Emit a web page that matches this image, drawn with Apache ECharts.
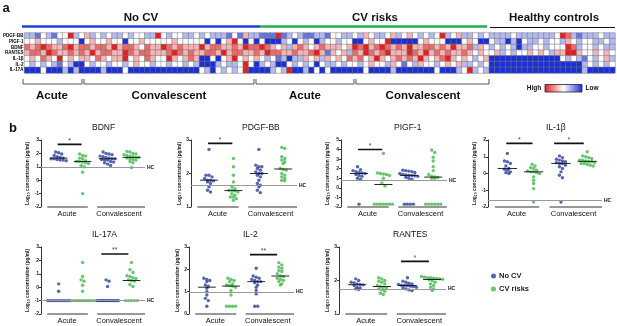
<!DOCTYPE html>
<html>
<head>
<meta charset="utf-8">
<script src="https://cdn.jsdelivr.net/npm/echarts/dist/echarts.min.js"></script>
<style>
  html, body { margin: 0; padding: 0; background: #fff; }
  #main { width: 617px; height: 326px; }
</style>
</head>
<body>
<div id="main"></div>
<script>
const FONT = 'Liberation Sans, Arial, sans-serif'

// ---------- heatmap (panel a) ----------
// levels: R=3 r=2 p=1 w=0 l=-1 b=-2 B=-3 (high -> low)
const heatRows = ['PDGF-BB', 'PIGF-1', 'BDNF', 'RANTES', 'IL-1β', 'IL-2', 'IL-17A']
// columns: No CV acute 11, No CV convalescent 31, CV acute 18, CV convalescent 25, healthy 23
const rowPDGF = 'llbwlbwwRlw' + 'plwlwllwlwwllRwlwwllwlwlllbwbpl' + 'lbbbRblwlbbllbwwll' + 'wlpwllwplwpwlwlwRlwpllwlw' + 'llllwlllllllwRrlblllwll'
const rowPIGF = 'wwpwwwlwwwB' + 'wpwwpwwBwwpwwwwwpwwwwwBwBwpRwBw' + 'BwBBBlwBwlwBlwwlww' + 'BBwpwwRBBBBBwpwwwBBBwpwBB' + 'wllBlBwllwlwwlpwlwwllwl'
const rowBDNF = 'rprRrpprRpr' + 'rprrpRprrpwrppRrprpppRprrpprpRr' + 'rRrpwplprpwprpppwp' + 'RrRprRrprpRpprrprpRpprlpw' + 'lwlwlBllwwlwwwRrlwwlwll'
const rowRANTES = 'prrpRrpprpr' + 'pRprrppRrprrppprRrprpprrpRprrpp' + 'rpRrrpprpprRpbpwpl' + 'rpRrprRpppRrpRprprpprpwpw' + 'wplwlwwpwpwlppRRpwwpwpw'
const rowIL1B = 'wpwrpwRwpwp' + 'pwrpwppRwpwrpwwRpwprpBBwBwpRwpw' + 'pwlwblBllpwplpwpwr' + 'prwpRpwprprpRpwprRpwpwlwp' + 'BBBBBBBBBBBBBwlwlbwlwpl'
const rowIL2 = 'wlwlwlbwlBB' + 'wlwwlwwlwpwwlwwlwwlwlBBBlwllwRw' + 'BlwlBBwlwlwBwllwlw' + 'wlwpwwlpwbwlpwwlwpwpllwlw' + 'BBBBBBBBBBBBBBBBBlwlwlw'
const rowIL17A = 'BBBwBBBlBlB' + 'BBBlBBBwBBBBBBBBBBBBBwlBwlwlwRB' + 'BBBlwlRBBlBwBwBBBB' + 'BBwBBBBlBBBBBBBwBBBlwRlwl' + 'BBBBBBBBBBBBBBBBBlBBBBB'
const heatStrings = [rowPDGF, rowPIGF, rowBDNF, rowRANTES, rowIL1B, rowIL2, rowIL17A]
const levelOf = { R: 3, r: 2, p: 1, w: 0, l: -1, b: -2, B: -3 }

// ---------- scatter panels (panel b) ----------
// order in each: No CV acute, CV risks acute, No CV convalescent, CV risks convalescent
const bdnf = [
  [2.1, 2.05, 1.95, 1.85, 1.75, 1.7, 1.65, 1.6, 1.6, 1.55, 1.5, 1.5, 1.45],
  [1.95, 1.85, 1.8, 1.65, 1.6, 1.45, 1.4, 1.4, 1.35, 1.3, 1.25, 1.1, 1.0, 0.6, -1.0],
  [2.1, 2.0, 1.95, 1.9, 1.8, 1.75, 1.7, 1.65, 1.6, 1.6, 1.55, 1.5, 1.5, 1.4, 1.35, 1.3, 1.2, 1.1],
  [2.15, 2.1, 2.0, 1.95, 1.9, 1.85, 1.8, 1.75, 1.7, 1.7, 1.65, 1.6, 1.55, 1.5, 1.4, 1.3, 0.95]
]
const pdgf = [
  [2.72, 1.95, 1.95, 1.9, 1.85, 1.8, 1.8, 1.78, 1.75, 1.7, 1.6, 1.5, 1.45],
  [2.45, 2.2, 1.95, 1.75, 1.6, 1.55, 1.5, 1.5, 1.48, 1.45, 1.4, 1.35, 1.3, 1.3, 1.25, 1.2],
  [2.72, 2.25, 2.2, 2.2, 2.15, 2.1, 2.05, 2.0, 2.0, 1.95, 1.9, 1.8, 1.7, 1.65, 1.6, 1.5, 1.43],
  [2.78, 2.75, 2.5, 2.45, 2.4, 2.35, 2.3, 2.15, 2.12, 2.1, 2.0, 1.95, 1.9, 1.85, 1.8, 1.78]
]
const pigf = [
  [2.2, 1.9, 1.8, 1.7, 1.6, 1.55, 1.5, 1.4, 1.3, 1.2, 1.0, 0.9, -1.7],
  [3.6, 1.55, 1.5, 1.45, 1.4, 1.3, 1.0, 0.5, 0.2, -1.7, -1.7, -1.7, -1.7, -1.7, -1.7, -1.7],
  [1.85, 1.8, 1.75, 1.7, 1.6, 1.5, 1.4, 1.35, 1.3, 1.3, 1.25, 1.2, 1.1, 1.0, 0.9, -1.7, -1.7, -1.7, -1.7],
  [3.95, 3.7, 3.2, 2.8, 2.2, 1.8, 1.4, 1.2, 1.15, 1.1, 1.0, 1.0, -1.7, -1.7, -1.7, -1.7, -1.7, -1.7]
]
const il1b = [
  [1.2, 0.75, 0.7, 0.6, 0.45, 0.3, 0.25, 0.2, 0.1, 0.05, 0.0],
  [0.55, 0.45, 0.35, 0.3, 0.2, 0.15, 0.1, 0.1, 0.05, 0.0, -0.2, -0.4, -0.6, -0.9, -1.7],
  [1.05, 0.95, 0.85, 0.8, 0.75, 0.7, 0.65, 0.6, 0.6, 0.5, 0.4, 0.3, 0.1, -0.1, -0.25, -1.7],
  [1.3, 1.05, 1.0, 0.95, 0.9, 0.8, 0.8, 0.75, 0.7, 0.7, 0.65, 0.6, 0.6, 0.55, 0.5, 0.45]
]
const il17a = [
  [0.25, -0.3, -1, -1, -1, -1, -1, -1, -1, -1, -1, -1, -1],
  [1.85, 0.8, 0.55, 0.45, 0.15, -0.3, -1, -1, -1, -1, -1, -1, -1, -1, -1, -1],
  [0.55, 0.45, 0.05, -1, -1, -1, -1, -1, -1, -1, -1, -1, -1, -1, -1, -1, -1, -1],
  [1.85, 1.3, 1.1, 0.85, 0.8, 0.7, 0.65, 0.55, 0.5, 0.45, 0.2, 0.05, -1, -1, -1, -1, -1]
]
const il2 = [
  [1.6, 1.55, 1.5, 1.45, 1.3, 1.25, 1.15, 1.0, 0.85, 0.7, 0.6, 0.35],
  [1.6, 1.55, 1.5, 1.45, 1.35, 1.3, 1.28, 1.25, 1.2, 1.05, 0.85, 0.35, 0.35, 0.35, 0.35],
  [2.05, 1.7, 1.65, 1.6, 1.55, 1.5, 1.45, 1.45, 1.4, 1.3, 1.2, 1.05, 0.9, 0.35, 0.35],
  [2.3, 2.2, 2.1, 2.05, 1.95, 1.9, 1.8, 1.7, 1.68, 1.6, 1.55, 1.5, 1.45, 1.35, 1.3]
]
const rantes = [
  [2.05, 2.0, 1.95, 1.93, 1.9, 1.88, 1.87, 1.85, 1.8, 1.78, 1.75, 1.73],
  [2.08, 2.05, 2.0, 1.98, 1.95, 1.9, 1.85, 1.82, 1.8, 1.78, 1.75, 1.72, 1.68, 1.62, 1.58],
  [2.08, 1.98, 1.95, 1.92, 1.9, 1.88, 1.86, 1.85, 1.85, 1.83, 1.82, 1.8, 1.78, 1.75, 1.72, 1.7],
  [2.12, 2.1, 2.08, 2.08, 2.07, 2.06, 2.05, 2.04, 2.02, 2.0, 1.95, 1.9, 1.85, 1.8, 1.75, 1.7]
]
const hcValues = [0.97, 1.64, 0.75, -1.62, -1.0, 0.98, 1.75]
const groupLabels = ['Acute', 'Convalescent']

const panels = [
  { title: 'BDNF', data: bdnf, hc: hcValues[0], min: -2, max: 3, left: 41, top: 140, width: 104, tx: 92,
    sig: [{ g: 0, y: 2.67, text: '*' }] },
  { title: 'PDGF-BB', data: pdgf, hc: hcValues[1], min: 1, max: 3, left: 191, top: 140, width: 106, tx: 242,
    sig: [{ g: 0, y: 2.9, text: '*' }] },
  { title: 'PIGF-1', data: pigf, hc: hcValues[2], min: -2, max: 5, left: 341, top: 140, width: 106, tx: 394,
    sig: [{ g: 0, y: 4.0, text: '*' }] },
  { title: 'IL-1β', data: il1b, hc: hcValues[3], min: -2, max: 2, left: 488, top: 140, width: 114, tx: 546,
    sig: [{ g: 0, y: 1.8, text: '*' }, { g: 1, y: 1.8, text: '*' }] },
  { title: 'IL-17A', data: il17a, hc: hcValues[4], min: -2, max: 3, left: 41, top: 247, width: 104, tx: 92,
    sig: [{ g: 1, y: 2.48, text: '**' }] },
  { title: 'IL-2', data: il2, hc: hcValues[5], min: 0, max: 3, left: 189, top: 247, width: 105, tx: 243,
    sig: [{ g: 1, y: 2.66, text: '**' }] },
  { title: 'RANTES', data: rantes, hc: hcValues[6], min: 1, max: 3, left: 339, top: 247, width: 107, tx: 393,
    sig: [{ g: 1, y: 2.57, text: '*' }] }
]

const BLUE = '#2c3e9c'
const GREEN = '#44b64b'
const centers = [0.17, 0.4, 0.64, 0.87]
const sigSpan = [[0.16, 0.39], [0.58, 0.84]]
const baseSpan = [[0.06, 0.45], [0.54, 1.0]]
const PLOT_H = 67

// simple beeswarm layout: points with close values are spread sideways
function swarm(vals, center, yRange, width) {
  const sorted = vals.slice().sort((a, b) => b - a)
  const bin = yRange * 3.2 / PLOT_H
  const stepX = 3.0 / width
  const maxHalf = 11 / width
  const out = []
  let i = 0
  while (i < sorted.length) {
    let j = i
    while (j < sorted.length && sorted[i] - sorted[j] < bin) j++
    const n = j - i
    const step = n > 1 ? Math.min(stepX, (2 * maxHalf) / (n - 1)) : 0
    for (let k = 0; k < n; k++) out.push([center + (k - (n - 1) / 2) * step, sorted[i + k]])
    i = j
  }
  return out
}

function median(vals) {
  const s = vals.slice().sort((a, b) => a - b)
  const m = Math.floor(s.length / 2)
  return s.length % 2 ? s[m] : (s[m - 1] + s[m]) / 2
}

const grids = []
const xAxes = []
const yAxes = []
const series = []

// heatmap grid
const heatCols = []
for (let i = 0; i < rowPDGF.length; i++) heatCols.push(String(i))
const heatData = []
heatStrings.forEach((str, r) => {
  for (let c = 0; c < str.length; c++) heatData.push([c, r, levelOf[str[c]]])
})
grids.push({ left: 22, top: 33, width: 593, height: 40 })
xAxes.push({ gridIndex: 0, type: 'category', data: heatCols, show: false })
yAxes.push({
  gridIndex: 0, type: 'category', data: heatRows, inverse: true,
  axisLine: { show: false }, axisTick: { show: false },
  axisLabel: { interval: 0, fontSize: 4.5, fontWeight: 'bold', margin: 1, color: '#000', fontFamily: FONT }
})
series.push({
  type: 'heatmap', xAxisIndex: 0, yAxisIndex: 0, data: heatData,
  itemStyle: { borderColor: '#777', borderWidth: 0.5 }
})

const graphics = []

panels.forEach((p) => {
  const gi = grids.length
  const xa = xAxes.length
  const ya = yAxes.length
  const yRange = p.max - p.min
  grids.push({ left: p.left, top: p.top, width: p.width, height: PLOT_H })
  xAxes.push({ gridIndex: gi, type: 'value', min: 0, max: 1, show: false })
  xAxes.push({
    gridIndex: gi, type: 'category', data: groupLabels, position: 'bottom',
    axisLine: { show: false }, axisTick: { show: false },
    axisLabel: { interval: 0, hideOverlap: false, fontSize: 7.5, color: '#111', margin: 3, fontFamily: FONT }
  })
  yAxes.push({
    gridIndex: gi, type: 'value', min: p.min, max: p.max, interval: 1,
    axisLine: { show: true, lineStyle: { color: '#333', width: 1 } },
    axisTick: { show: true, length: 2, lineStyle: { color: '#333' } },
    splitLine: { show: false },
    axisLabel: { fontSize: 5, margin: 2, color: '#222', fontWeight: 'bold', fontFamily: FONT },
    name: 'Log{s|10} concentration (pg/ml)',
    nameLocation: 'middle', nameGap: 9,
    nameTextStyle: {
      fontSize: 4.8, fontWeight: 'bold', color: '#222', fontFamily: FONT,
      rich: { s: { fontSize: 3.5, fontWeight: 'bold', verticalAlign: 'bottom', fontFamily: FONT } }
    }
  })

  // dots
  p.data.forEach((vals, g) => {
    series.push({
      name: g % 2 ? 'CV risks' : 'No CV',
      type: 'scatter', xAxisIndex: xa, yAxisIndex: ya,
      data: swarm(vals, centers[g], yRange, p.width),
      symbolSize: 3.4, itemStyle: { color: g % 2 ? GREEN : BLUE }, z: 3
    })
    const m = median(vals)
    series.push({
      type: 'line', xAxisIndex: xa, yAxisIndex: ya, symbol: 'none', silent: true, z: 4,
      data: [[centers[g] - 0.085, m], [centers[g] + 0.085, m]],
      lineStyle: { color: '#111', width: 0.9 }
    })
  })

  // group baselines, HC reference line on the first one
  baseSpan.forEach((s, k) => {
    const line = {
      type: 'line', xAxisIndex: xa, yAxisIndex: ya, symbol: 'none', silent: true, clip: false,
      data: [[s[0], p.min], [s[1], p.min]],
      lineStyle: { color: '#333', width: 1 }
    }
    if (k === 0) {
      line.markLine = {
        symbol: 'none', silent: true, animation: false,
        data: [{ yAxis: p.hc }],
        lineStyle: { color: '#999', type: 'solid', width: 1 },
        label: { position: 'end', formatter: 'HC', fontSize: 5, fontWeight: 'bold', color: '#111', distance: 2, fontFamily: FONT }
      }
    }
    series.push(line)
  })

  // significance bars
  p.sig.forEach((s) => {
    const span = sigSpan[s.g]
    series.push({
      type: 'line', xAxisIndex: xa, yAxisIndex: ya, symbol: 'none', silent: true, clip: false,
      data: [[span[0], s.y], [span[1], s.y]],
      lineStyle: { color: '#111', width: 1.6 }
    })
    series.push({
      type: 'scatter', xAxisIndex: xa, yAxisIndex: ya, silent: true, clip: false,
      data: [[(span[0] + span[1]) / 2, s.y]], symbolSize: 0,
      label: { show: true, formatter: s.text, position: 'top', distance: 0, fontSize: 7, color: '#111', fontFamily: FONT }
    })
  })

  graphics.push({
    type: 'text', left: p.tx, top: p.top - 17,
    style: { text: p.title, fontSize: 8.5, fill: '#111', fontFamily: FONT, textAlign: 'center' }
  })
})

// header & annotations for panel a
function label(text, cx, cy, size, weight) {
  return { type: 'text', x: cx, y: cy, style: { text, fontSize: size, fontWeight: weight || 'bold', fill: '#111', fontFamily: FONT, align: 'center', verticalAlign: 'middle' } }
}
function bracket(x0, x1) {
  return { type: 'polyline', shape: { points: [[x0, 79], [x0, 84], [x1, 84], [x1, 79]] }, style: { stroke: '#555', lineWidth: 1, fill: null } }
}
graphics.push(
  label('a', 6, 8, 13),
  label('No CV', 141, 18, 11.5),
  label('CV risks', 375, 18, 11.5),
  label('Healthy controls', 554, 18, 11.5),
  { type: 'line', shape: { x1: 22, y1: 26.5, x2: 260, y2: 26.5 }, style: { stroke: '#1f3fd6', lineWidth: 2.5 } },
  { type: 'line', shape: { x1: 260, y1: 26.5, x2: 487, y2: 26.5 }, style: { stroke: '#21b04c', lineWidth: 2.5 } },
  { type: 'line', shape: { x1: 490, y1: 27.5, x2: 615, y2: 27.5 }, style: { stroke: '#111', lineWidth: 1.2 } },
  bracket(23, 82), bracket(84, 254), bracket(256, 354), bracket(356, 489),
  label('Acute', 52, 96, 11.5),
  label('Convalescent', 169, 96, 11.5),
  label('Acute', 305, 96, 11.5),
  label('Convalescent', 423, 96, 11.5),
  label('High', 534, 88.5, 6.5),
  {
    type: 'rect', shape: { x: 545, y: 84.5, width: 37, height: 7.5 },
    style: {
      stroke: '#222', lineWidth: 0.8,
      fill: { type: 'linear', x: 0, y: 0, x2: 1, y2: 0, colorStops: [
        { offset: 0, color: '#e61e1e' }, { offset: 0.5, color: '#ffffff' }, { offset: 1, color: '#1a2fd6' }
      ] }
    }
  },
  label('Low', 592, 88.5, 6.5),
  label('b', 13, 128, 13)
)

const chart = echarts.init(document.getElementById('main'))
chart.setOption({
  animation: false,
  textStyle: { fontFamily: FONT },
  grid: grids,
  xAxis: xAxes,
  yAxis: yAxes,
  visualMap: {
    show: false, type: 'continuous', min: -3, max: 3, seriesIndex: 0,
    inRange: { color: ['#1a2fd6', '#ffffff', '#e61e1e'] }
  },
  legend: {
    data: ['No CV', 'CV risks'], orient: 'vertical', left: 486, top: 267,
    icon: 'circle', itemWidth: 5, itemHeight: 5, itemGap: 5,
    textStyle: { fontSize: 7.5, fontWeight: 'bold', color: '#222', fontFamily: FONT, padding: [0, 0, 0, -2] }
  },
  graphic: graphics,
  series: series
})
</script>
</body>
</html>
